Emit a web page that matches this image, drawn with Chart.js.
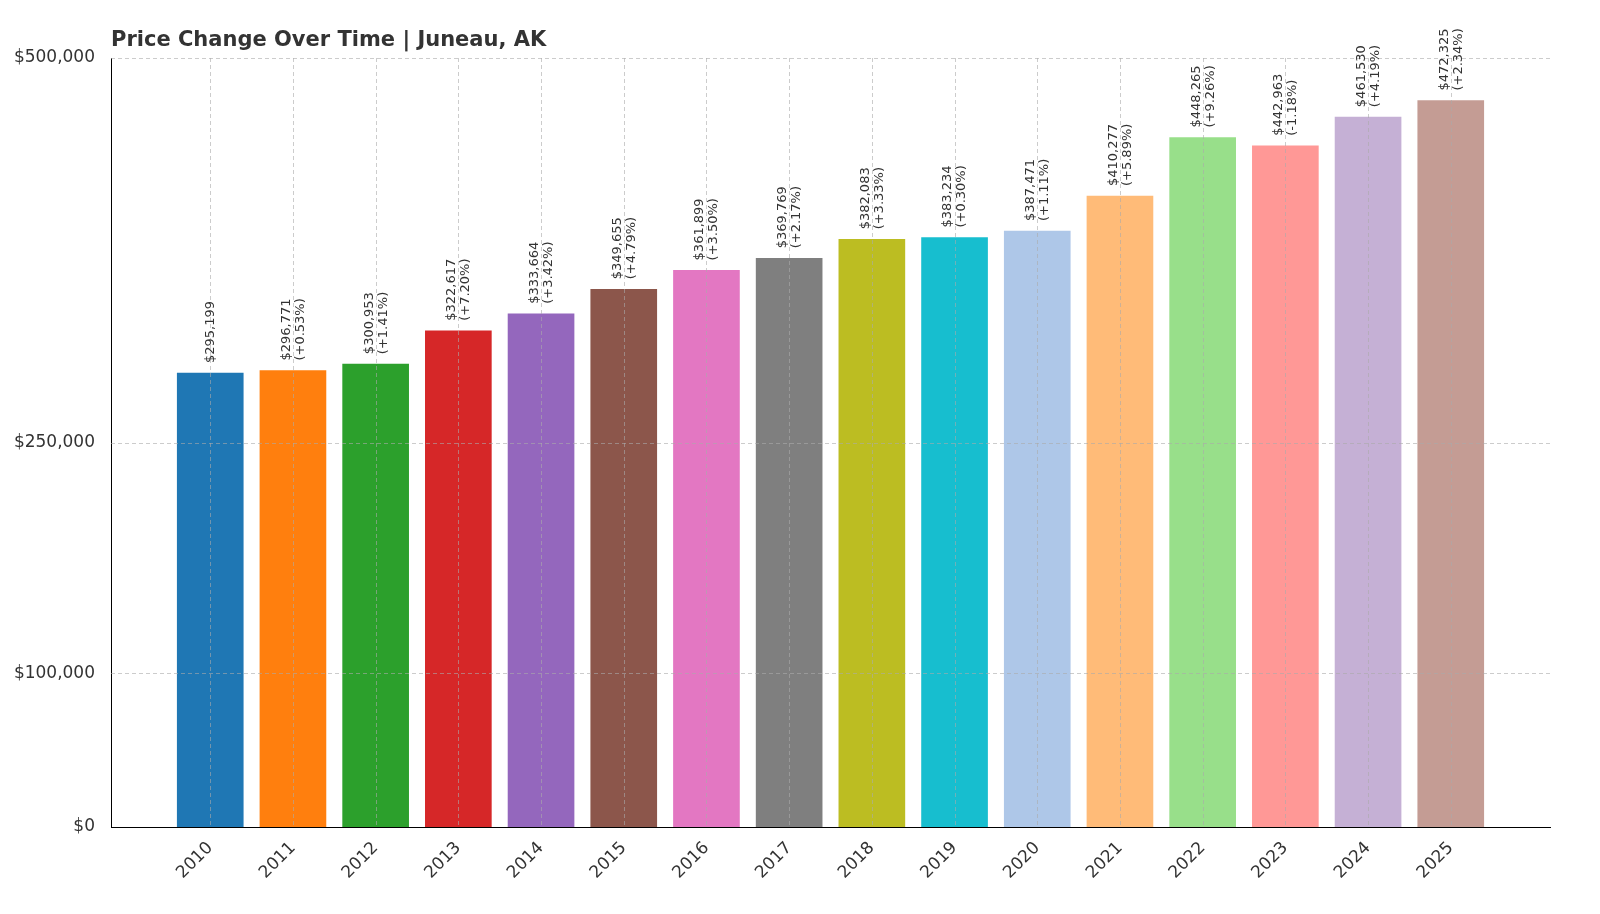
<!DOCTYPE html>
<html><head><meta charset="utf-8">
<script src="https://cdn.jsdelivr.net/npm/chart.js@4/dist/chart.umd.min.js"></script>
<style>html,body{margin:0;background:#fff}#wrap{width:1600px;height:914px}</style>
</head><body><div id="wrap"><canvas id="c"></canvas></div>
<script>
const years = ['2010','2011','2012','2013','2014','2015','2016','2017','2018','2019','2020','2021','2022','2023','2024','2025'];
const prices = [295199,296771,300953,322617,333664,349655,361899,369769,382083,383234,387471,410277,448265,442963,461530,472325];
const changes = [null,'+0.53%','+1.41%','+7.20%','+3.42%','+4.79%','+3.50%','+2.17%','+3.33%','+0.30%','+1.11%','+5.89%','+9.26%','-1.18%','+4.19%','+2.34%'];
const yTicks = [0,100000,250000,500000];
const barColors = ['#1f77b4','#ff7f0e','#2ca02c','#d62728','#9467bd','#8c564b','#e377c2','#7f7f7f','#bcbd22','#17becf','#aec7e8','#ffbb78','#98df8a','#ff9896','#c5b0d5','#c49c94'];

const fmt = v => '$' + v.toLocaleString('en-US');

const overlayPlugin = {
    id: 'overlay',
    afterDatasetsDraw(chart) {
        const ctx = chart.ctx, a = chart.chartArea;
        const xs = chart.scales.x, ys = chart.scales.y;
        ctx.save();
        ctx.strokeStyle = 'rgba(170,170,170,0.6)';
        ctx.lineWidth = 1;
        ctx.setLineDash([4, 3]);
        years.forEach((y, i) => {
            const px = Math.round(xs.getPixelForValue(i)) + 0.5;
            ctx.beginPath(); ctx.moveTo(px, a.top); ctx.lineTo(px, a.bottom); ctx.stroke();
        });
        yTicks.slice(1).forEach(v => {
            const py = Math.round(ys.getPixelForValue(v)) + 0.5;
            ctx.beginPath(); ctx.moveTo(a.left, py); ctx.lineTo(a.right, py); ctx.stroke();
        });
        ctx.restore();
    },
    afterDraw(chart) {
        const ctx = chart.ctx;
        const meta = chart.getDatasetMeta(0);
        ctx.save();
        ctx.fillStyle = '#333';
        ctx.font = '13px "DejaVu Sans"';
        ctx.textAlign = 'left';
        ctx.textBaseline = 'middle';
        meta.data.forEach((bar, i) => {
            const lines = changes[i] ? [fmt(prices[i]), '(' + changes[i] + ')'] : [fmt(prices[i])];
            const offs = lines.length === 2 ? [-6.5, 7.5] : [0];
            lines.forEach((t, k) => {
                ctx.save();
                ctx.translate(bar.x + offs[k], bar.y - 10);
                ctx.rotate(-Math.PI / 2);
                ctx.fillText(t, 0, 0);
                ctx.restore();
            });
        });
        ctx.font = 'bold 21px "DejaVu Sans"';
        ctx.textBaseline = 'alphabetic';
        ctx.fillText('Price Change Over Time | Juneau, AK', chart.chartArea.left, 46);
        ctx.restore();
    }
};

new Chart(document.getElementById('c'), {
    type: 'bar',
    data: { datasets: [{ data: prices.map((p, i) => ({ x: i, y: p })), backgroundColor: barColors, barThickness: 66 }] },
    options: {
        responsive: true, maintainAspectRatio: false, animation: false,
        layout: { padding: { top: 58, right: 50, left: 0, bottom: 0 } },
        plugins: { legend: { display: false }, tooltip: { enabled: false } },
        scales: {
            x: {
                type: 'linear', min: -1.2, max: 16.2, offset: false,
                afterBuildTicks(s) { s.ticks = years.map((y, i) => ({ value: i })); },
                grid: { display: false },
                border: { color: '#000' },
                ticks: { color: '#333', font: { size: 17, family: 'DejaVu Sans' }, maxRotation: 45, minRotation: 45, autoSkip: false, callback: v => years[v] },
                afterFit(s) { s.height = 87; }
            },
            y: {
                min: 0, max: 500000,
                afterBuildTicks(s) { s.ticks = yTicks.map(v => ({ value: v })); },
                grid: { display: false },
                border: { color: '#000' },
                ticks: { color: '#333', font: { size: 17, family: 'DejaVu Sans' }, padding: 8, callback: v => fmt(v) },
                afterFit(s) { s.width = 111; }
            }
        }
    },
    plugins: [overlayPlugin]
});
</script></body></html>
